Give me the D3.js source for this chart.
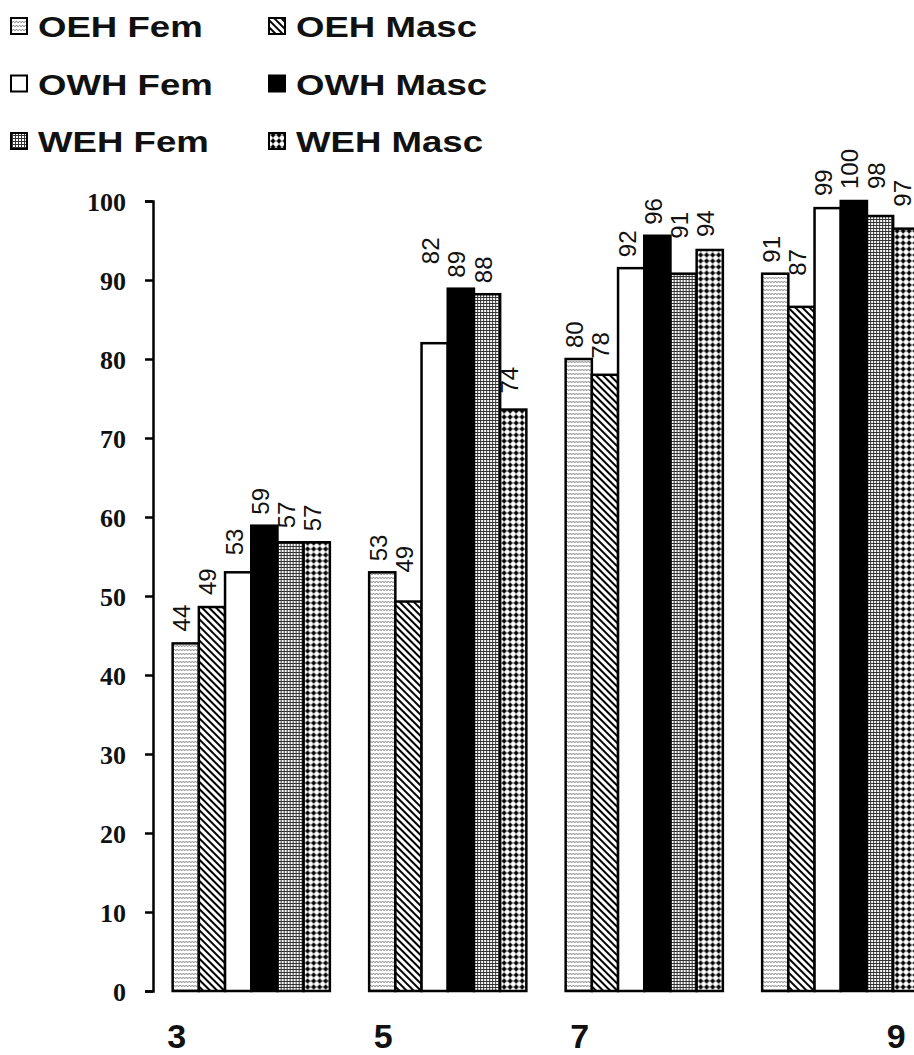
<!DOCTYPE html>
<html>
<head>
  <style>
    body{
      margin:0;
      background:#fff;
    }
    .legend-text{
      font-family: "Liberation Sans", Arial, sans-serif;
      font-weight: bold;
      font-size: 30px;
      fill: #111;
    }
    .y-label{
      font-family: "Liberation Serif", "Times New Roman", serif;
      font-weight: bold;
      font-size: 26px;
      fill: #111;
    }
    .x-label{
      font-family: "Liberation Sans", Arial, sans-serif;
      font-weight: bold;
      font-size: 34px;
      fill: #111;
    }
    .value-label{
      font-family: "Liberation Sans", Arial, sans-serif;
      font-size: 24px;
      fill: #111;
    }
    .bar{
      stroke: #000;
      stroke-width: 2.5px;
    }
  </style>
  <script src="https://d3js.org/d3.v7.min.js"></script>
</head>
<body>
<div class="chart"></div>
<script>
// data
const categories = ['3', '5', '7', '9'];
const seriesNames = ['OEH Fem', 'OEH Masc', 'OWH Fem', 'OWH Masc', 'WEH Fem', 'WEH Masc'];
const oehFem  = [44, 53, 80, 90.8];
const oehMasc = [48.6, 49.3, 78, 86.6];
const owhFem  = [53, 82, 91.5, 99.1];
const owhMasc = [58.9, 88.9, 95.6, 100];
const wehFem  = [56.8, 88.2, 90.8, 98.1];
const wehMasc = [56.8, 73.6, 93.8, 96.5];
const yTicks = [0, 10, 20, 30, 40, 50, 60, 70, 80, 90, 100];

const seriesValues = [oehFem, oehMasc, owhFem, owhMasc, wehFem, wehMasc];

// layout tweaks (label placement like the original)
const labelLift = [
  [1, 1, 6, 0, 3, 0],
  [0, 18, 68, 0, 0, 5],
  [0, 5, 0, 0, 24, 2],
  [0, 20, 1, 1, 16, 11]
];
const catLabelShift = [4, 14, 14, 134];
const legendOrder = [[0, 2, 4], [1, 3, 5]];

const width = 914;
const height = 1055;
const axisX = 153;
const plotTop = 201;
const plotBottom = 991;

const svg = d3.select('.chart')
  .append('svg')
  .attr('width', width)
  .attr('height', height);

// patterns
const defs = svg.append('defs');

const p0 = defs.append('pattern').attr('id', 'pat0')
  .attr('patternUnits', 'userSpaceOnUse').attr('width', 6).attr('height', 4);
p0.append('rect').attr('width', 6).attr('height', 4).attr('fill', '#fff');
p0.append('path').attr('d', 'M0,2.5 L1.5,1.5 L3,2.5 L4.5,1.5 L6,2.5')
  .attr('fill', 'none').attr('stroke', '#666').attr('stroke-width', 0.9);

const p1 = defs.append('pattern').attr('id', 'pat1')
  .attr('patternUnits', 'userSpaceOnUse').attr('width', 5).attr('height', 5)
  .attr('patternTransform', 'rotate(-45)');
p1.append('rect').attr('width', 5).attr('height', 5).attr('fill', '#fff');
p1.append('rect').attr('x', 0).attr('width', 2).attr('height', 5).attr('fill', '#000');

const p4 = defs.append('pattern').attr('id', 'pat4')
  .attr('patternUnits', 'userSpaceOnUse').attr('width', 3).attr('height', 3);
p4.append('rect').attr('width', 3).attr('height', 3).attr('fill', '#fff');
p4.append('path').attr('d', 'M0,0.5 H3 M0.5,0 V3')
  .attr('stroke', '#333').attr('stroke-width', 1);

const p5 = defs.append('pattern').attr('id', 'pat5')
  .attr('patternUnits', 'userSpaceOnUse').attr('width', 6).attr('height', 6);
p5.append('rect').attr('width', 6).attr('height', 6).attr('fill', '#fff');
p5.append('path').attr('d', 'M0,3 H6 M3,0 V6')
  .attr('stroke', '#000').attr('stroke-width', 0.7);
p5.append('circle').attr('cx', 3).attr('cy', 3).attr('r', 1.9).attr('fill', '#000');

const fills = ['url(#pat0)', 'url(#pat1)', '#fff', '#000', 'url(#pat4)', 'url(#pat5)'];

// scales
const y = d3.scaleLinear().domain([0, 100]).range([plotBottom, plotTop]);

const x0 = d3.scaleBand()
  .domain(categories)
  .range([axisX, axisX + 786])
  .paddingInner(0.2)
  .paddingOuter(0.1);

const x1 = d3.scaleBand()
  .domain(d3.range(seriesNames.length))
  .range([0, x0.bandwidth()]);

// y axis
const yAxis = d3.axisLeft(y)
  .tickValues(yTicks)
  .tickSize(8)
  .tickSizeOuter(8)
  .tickFormat(d3.format('d'));

const yG = svg.append('g')
  .attr('transform', `translate(${axisX},0)`)
  .call(yAxis);
yG.selectAll('path, line').attr('stroke', '#000').attr('stroke-width', 2.5);
yG.attr('font-size', null).attr('font-family', null);
yG.selectAll('text')
  .attr('class', 'y-label')
  .attr('x', -27)
  .attr('dy', '0.35em');

// bars
const groups = svg.append('g')
  .selectAll('g')
  .data(categories)
  .join('g')
  .attr('transform', d => `translate(${x0(d)},0)`);

groups.selectAll('rect')
  .data((c, ci) => seriesValues.map((vals, si) => ({ si, ci, v: vals[ci] })))
  .join('rect')
  .attr('class', 'bar')
  .attr('x', d => x1(d.si))
  .attr('width', x1.bandwidth())
  .attr('y', d => y(d.v))
  .attr('height', d => y(0) - y(d.v))
  .attr('fill', d => fills[d.si]);

groups.selectAll('text')
  .data((c, ci) => seriesValues.map((vals, si) => ({ si, ci, v: vals[ci] })))
  .join('text')
  .attr('class', 'value-label')
  .attr('transform', d => {
    const cx = x1(d.si) + x1.bandwidth() / 2 + 4.5;
    const ty = y(d.v) - 11 - labelLift[d.ci][d.si];
    return `translate(${cx},${ty}) rotate(-90)`;
  })
  .text(d => Math.round(d.v));

// category labels
svg.append('g')
  .selectAll('text')
  .data(categories)
  .join('text')
  .attr('class', 'x-label')
  .attr('text-anchor', 'middle')
  .attr('x', (d, i) => x0(d) + catLabelShift[i])
  .attr('y', 1048)
  .text(d => d);

// legend (text is drawn a bit wide, as in the original)
const legend = svg.append('g');
legendOrder.forEach((col, ci) => {
  col.forEach((si, ri) => {
    const lx = ci === 0 ? 10 : 268;
    const ly = 37 + ri * 57.5;
    legend.append('rect')
      .attr('x', lx + 1)
      .attr('y', ly - 19)
      .attr('width', 16)
      .attr('height', 16)
      .attr('fill', fills[si])
      .attr('stroke', '#000')
      .attr('stroke-width', 2);
    legend.append('text')
      .attr('class', 'legend-text')
      .attr('transform', `translate(${lx + 28},${ly}) scale(1.22,1)`)
      .text(seriesNames[si]);
  });
});
</script>
</body>
</html>
